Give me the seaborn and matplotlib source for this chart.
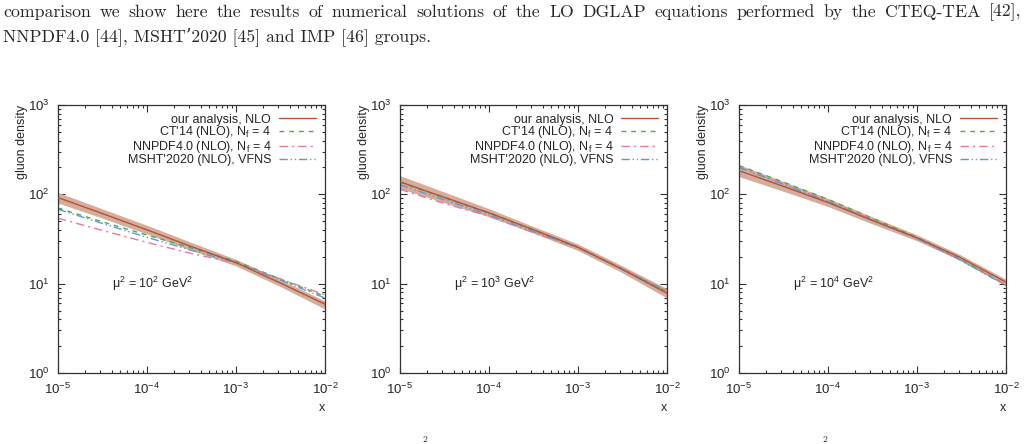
import numpy as np
import pandas as pd
import matplotlib
matplotlib.use("Agg")
import matplotlib.pyplot as plt
import seaborn as sns

# x grid shared by all curves
x_vals = [1e-5, 3e-5, 1e-4, 3e-4, 1e-3, 3e-3, 1e-2]

scales = ["10$^2$", "10$^3$", "10$^4$"]

# mu^2 = 10^2 GeV^2
ours_1 = [92, 62, 40, 26.5, 17.2, 10.4, 5.9]
band_lo_1 = [80, 55, 36, 24, 15.8, 9.5, 5.2]
band_hi_1 = [105, 70, 45, 29.5, 18.7, 11.4, 6.4]
ct14_1 = [70, 50, 35, 25.5, 17.8, 11.5, 7.2]
nnpdf_1 = [54, 40, 29, 22, 17.0, 11.5, 7.5]
msht_1 = [68, 48, 33, 24, 17.3, 11.2, 6.9]

# mu^2 = 10^3 GeV^2
ours_2 = [138, 94, 62, 41, 25.6, 14.8, 7.8]
band_lo_2 = [116, 82, 56, 37.5, 23.5, 13.6, 6.9]
band_hi_2 = [162, 108, 69, 44.5, 27.8, 16.2, 8.8]
ct14_2 = [137, 93, 62, 40.5, 25.6, 15.0, 8.1]
nnpdf_2 = [114, 80, 57, 38, 25, 15.0, 8.3]
msht_2 = [128, 88, 59, 39, 25.2, 15.0, 8.2]

# mu^2 = 10^4 GeV^2
ours_3 = [184, 125, 81, 52, 32.6, 19.8, 10.4]
band_lo_3 = [158, 110, 73, 47.5, 30.2, 18.4, 9.6]
band_hi_3 = [214, 142, 90, 57, 35.2, 21.3, 11.2]
ct14_3 = [210, 140, 88, 55, 33, 19, 9.7]
nnpdf_3 = [202, 133, 84, 53, 32, 18.6, 9.6]
msht_3 = [200, 132, 83, 52.5, 32, 18.6, 9.5]

labels = ["our analysis, NLO", "CT'14 (NLO), N$_\\mathrm{f}$ = 4",
          "NNPDF4.0 (NLO), N$_\\mathrm{f}$ = 4", "MSHT'2020 (NLO), VFNS"]
colors = ["#b0533a", "#4dac47", "#e8799c", "#5b9bd5"]
styles = ["-", (0, (3.5, 3.5)), (0, (6, 3, 1.5, 3)), (0, (6, 2, 1, 2, 1, 2))]
band_color = "#d6ad9b"

line1 = ("comparison we show here the results of numerical solutions of the LO "
         "DGLAP equations performed by the CTEQ-TEA [42],")
line2 = "NNPDF4.0 [44], MSHT\u20192020 [45] and IMP [46] groups."

panels = [
    (ours_1, band_lo_1, band_hi_1, ct14_1, nnpdf_1, msht_1),
    (ours_2, band_lo_2, band_hi_2, ct14_2, nnpdf_2, msht_2),
    (ours_3, band_lo_3, band_hi_3, ct14_3, nnpdf_3, msht_3),
]

sns.set_style("ticks")
plt.rcParams["font.family"] = ["Liberation Sans", "DejaVu Sans"]
plt.rcParams["mathtext.fontset"] = "custom"
plt.rcParams["mathtext.rm"] = "Liberation Sans"
plt.rcParams["mathtext.it"] = "Liberation Sans:italic"

fig = plt.figure(figsize=(10.27, 4.44), dpi=100)

lefts = [58, 400, 739]
for i, (ours, lo, hi, ct, nn, ms) in enumerate(panels):
    ax = fig.add_axes([lefts[i] / 1027, 71 / 444, 267 / 1027, 268 / 444])
    ax.fill_between(x_vals, lo, hi, color=band_color, lw=0, zorder=1)
    df = pd.DataFrame({"x": x_vals * 4,
                       "y": ours + ct + nn + ms,
                       "set": sum([[l] * len(x_vals) for l in labels], [])})
    for j, lab in enumerate(labels):
        sns.lineplot(data=df[df["set"] == lab], x="x", y="y", ax=ax,
                     color=colors[j], linestyle=styles[j], lw=1.0,
                     label=lab, zorder=3 if j == 0 else 2)
    ax.set_xscale("log")
    ax.set_yscale("log")
    ax.set_xlim(1e-5, 1e-2)
    ax.set_ylim(1, 1e3)
    ax.set_xticks([1e-5, 1e-4, 1e-3, 1e-2])
    ax.set_xticklabels(["10$^{-5}$", "10$^{-4}$", "10$^{-3}$", "10$^{-2}$"])
    ax.set_yticks([1, 10, 100, 1000])
    ax.set_yticklabels(["10$^0$", "10$^1$", "10$^2$", "10$^3$"])
    ax.tick_params(which="both", direction="in", top=True, right=True,
                   labelsize=9.5, color="#333333", width=0.8)
    ax.tick_params(which="major", length=5, pad=6)
    ax.tick_params(which="minor", length=2.5)
    for s in ax.spines.values():
        s.set_linewidth(0.9)
        s.set_color("#333333")
    ax.set_xlabel("x", fontsize=9)
    ax.xaxis.set_label_coords(0.99, -0.108)
    ax.set_ylabel("gluon density", fontsize=9)
    ax.yaxis.set_label_coords(-0.112, 0.862)
    ax.text(4e-5, 10, "\u03bc$^2$ = " + scales[i] + " GeV$^2$",
            fontsize=9, ha="left", va="center")
    ax.legend(loc="upper right", frameon=False, markerfirst=False,
              fontsize=9, handlelength=3.0, labelspacing=-0.1,
              borderaxespad=0.3, handletextpad=0.6)

serif = ["cmr10", "DejaVu Serif"]
fs_text = 12.75

# first line is justified to the page width, as in the source
fig.canvas.draw()
renderer = fig.canvas.get_renderer()
words = line1.split(" ")
items = [fig.text(0, 1 - 12 / 444, w, fontsize=fs_text, family=serif,
                  ha="left", va="center") for w in words]
widths = [t.get_window_extent(renderer).width for t in items]
x0, x1 = 3, 1021
gap = (x1 - x0 - sum(widths)) / (len(words) - 1)
pos = x0
for t, w in zip(items, widths):
    t.set_x(pos / 1027)
    pos += w + gap

fig.text(3 / 1027, 1 - 37 / 444, line2, fontsize=fs_text, family=serif,
         ha="left", va="center")
fig.text(425 / 1027, 1 - 440 / 444, "2", fontsize=7, family=serif, ha="center", va="center")
fig.text(825 / 1027, 1 - 440 / 444, "2", fontsize=7, family=serif, ha="center", va="center")

fig.savefig("out.png", dpi=100)
